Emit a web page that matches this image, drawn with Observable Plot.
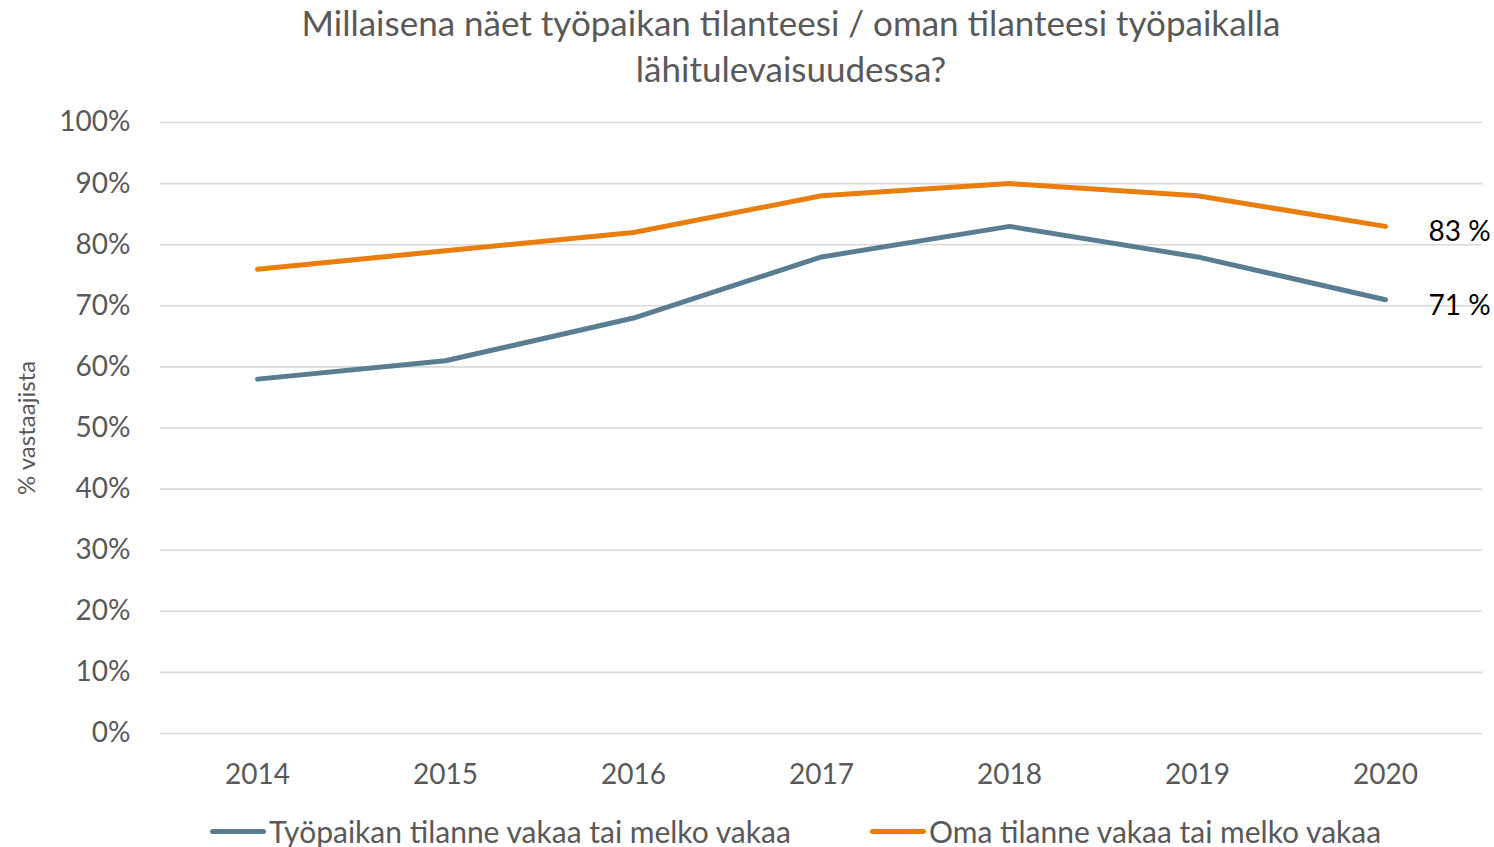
<!DOCTYPE html>
<html>
<head>
<meta charset="utf-8">
<script src="https://cdn.jsdelivr.net/npm/d3@7"></script>
<script src="https://cdn.jsdelivr.net/npm/@observablehq/plot@0.6"></script>
<style>
  html, body { margin: 0; padding: 0; background: #fff; }
  body { width: 1494px; height: 847px; position: relative; overflow: hidden; font-family: Lato, sans-serif; color: #595959; }
  #title { position: absolute; top: -1px; left: 0; width: 1494px; text-align: center; font-size: 35px; line-height: 46px; padding-left: 88px; box-sizing: border-box; }
  #chart { position: absolute; top: 100px; left: 0; }
  .leg { position: absolute; top: 811px; font-size: 30px; line-height: 40px; white-space: nowrap; display: flex; align-items: center; }
  .sw { display: inline-block; width: 56px; height: 5px; border-radius: 3px; margin-right: 3px; }
</style>
</head>
<body>
<div id="title">Millaisena näet työpaikan tilanteesi / oman tilanteesi työpaikalla<br>lähitulevaisuudessa?</div>
<div id="chart"></div>
<div class="leg" style="left:210px"><span class="sw" style="background:#5A7D92"></span>Työpaikan tilanne vakaa tai melko vakaa</div>
<div class="leg" style="left:870px"><span class="sw" style="background:#E97E0C"></span>Oma tilanne vakaa tai melko vakaa</div>
<script>
const years = [2014, 2015, 2016, 2017, 2018, 2019, 2020];
const tyopaikka = [58, 61, 68, 78, 83, 78, 71];
const oma = [76, 79, 82, 88, 90, 88, 83];
const yTicks = [0, 10, 20, 30, 40, 50, 60, 70, 80, 90, 100];
const yLabel = "% vastaajista";
const seriesNames = ["Työpaikan tilanne vakaa tai melko vakaa", "Oma tilanne vakaa tai melko vakaa"];
const colors = ["#5A7D92", "#E97E0C"];

const rowsT = years.map((year, i) => ({year, value: tyopaikka[i], series: seriesNames[0]}));
const rowsO = years.map((year, i) => ({year, value: oma[i], series: seriesNames[1]}));
const lastLabels = [rowsT[rowsT.length - 1], rowsO[rowsO.length - 1]];

const chart = Plot.plot({
  width: 1494,
  height: 700,
  marginTop: 22,
  marginBottom: 67,
  marginLeft: 160,
  marginRight: 12,
  style: {fontFamily: "Lato, sans-serif", fontSize: "28px", color: "#595959", background: "#fff", overflow: "visible"},
  x: {type: "point", domain: years, padding: 0.5},
  y: {domain: [0, 100]},
  marks: [
    Plot.ruleY(yTicks, {stroke: "#d9d9d9", strokeWidth: 1.6}),
    Plot.axisY({ticks: yTicks, tickFormat: d => d + "%", tickSize: 0, tickPadding: 30, fontSize: 28, label: null}),
    Plot.text([yLabel], {frameAnchor: "left", y: () => 50, text: d => d, rotate: -90, textAnchor: "middle", dx: -133, fontSize: 24, fill: "#595959"}),
    Plot.axisX({tickSize: 0, tickPadding: 31, tickFormat: d => String(d), fontSize: 28, label: null}),
    Plot.line(rowsT, {x: "year", y: "value", stroke: colors[0], strokeWidth: 5, strokeLinecap: "round", strokeLinejoin: "round"}),
    Plot.line(rowsO, {x: "year", y: "value", stroke: colors[1], strokeWidth: 5, strokeLinecap: "round", strokeLinejoin: "round"}),
    Plot.text(lastLabels, {x: "year", y: "value", text: d => d.value + " %", textAnchor: "start", dx: 43, dy: 6, fill: "#000", fontSize: 28})
  ]
});
document.getElementById("chart").appendChild(chart);
</script>
</body>
</html>
